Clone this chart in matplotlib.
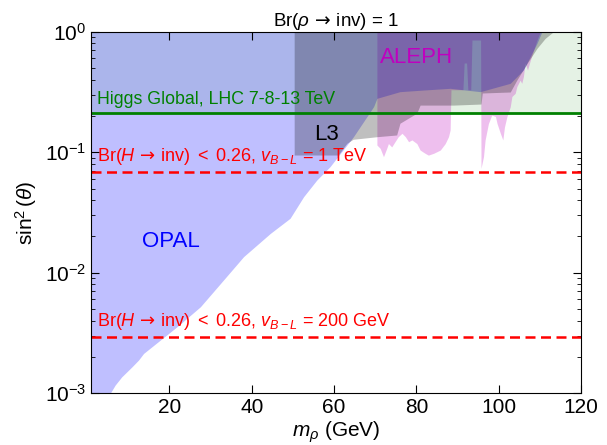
import matplotlib
matplotlib.use("Agg")
import matplotlib.pyplot as plt
import numpy as np

plt.rcParams['font.family'] = ['Liberation Sans', 'DejaVu Sans']
plt.rcParams['mathtext.fontset'] = 'custom'
plt.rcParams['mathtext.rm'] = 'Liberation Sans'
plt.rcParams['mathtext.it'] = 'Liberation Sans:italic'
plt.rcParams['mathtext.bf'] = 'Liberation Sans:bold'
plt.rcParams['mathtext.sf'] = 'DejaVu Sans'

# ---------------- data ----------------
opal_m = [1.0, 4.6, 5.6, 6.8, 8.4, 10.9, 12.5, 13.7, 21.8, 27.5, 33.1, 38.0, 44.5,
          49.3, 52.6, 55.8, 59.0, 64.7, 69.6, 70.4, 76.0, 81.7, 88.2, 95.5,
          102.8, 106.0, 109.3, 110.5]
opal_y = [0.0005, 0.0008, 0.0010, 0.00117, 0.00137, 0.00166, 0.00189, 0.00214,
          0.00356, 0.00522, 0.00869, 0.0136, 0.0212, 0.0283, 0.0428, 0.0588,
          0.0758, 0.1345, 0.239, 0.28, 0.318, 0.328, 0.339, 0.318, 0.373,
          0.481, 0.80, 1.0]

l3_m = [50.3, 61.0, 62.2, 63.1, 64.6, 70.4, 75.2, 76.0, 80.1, 80.9, 89.0,
        95.7, 96.0, 102.8, 104.4, 106.9, 109.3, 111.3, 113.3]
l3_y = [0.0948, 0.0948, 0.108, 0.1186, 0.128, 0.1345, 0.139, 0.174, 0.211,
        0.246, 0.246, 0.251, 0.31, 0.316, 0.397, 0.547, 0.728, 0.881, 1.0]

aleph_m = [70.4, 71.2, 72.0, 72.8, 73.2, 74.0, 74.8, 75.6, 76.5, 77.3, 78.1,
           78.9, 80.1, 80.9, 82.1, 82.9, 84.2, 85.8, 87.0, 87.8, 88.2, 88.4,
           91.3, 91.6, 92.2, 92.5, 93.2, 93.5, 95.6, 95.7, 96.3, 96.7, 97.5,
           98.3, 99.2, 99.6, 100.4, 101.0, 101.4, 102.0, 102.8, 103.2, 104.0,
           104.4, 105.2, 105.6, 106.0, 106.4, 107.0, 107.7, 108.5, 109.3, 110.1]
aleph_y = [0.1148, 0.1076, 0.0918, 0.108, 0.118, 0.1107, 0.1222, 0.1346,
           0.1435, 0.1346, 0.1222, 0.1265, 0.118, 0.1042, 0.098, 0.0946,
           0.098, 0.1042, 0.118, 0.1346, 0.153, 0.33, 0.33, 0.55, 0.55, 0.33,
           0.33, 0.853, 0.853, 0.0735, 0.0918, 0.1265, 0.173, 0.203, 0.198,
           0.173, 0.1435, 0.1265, 0.162, 0.198, 0.238, 0.29, 0.308, 0.35,
           0.396, 0.373, 0.425, 0.547, 0.481, 0.582, 0.706, 0.853, 1.0]

higgs_global = 0.21
brinv_1tev = 0.0685
brinv_200gev = 0.00295

x_range = [1, 120]
y_range = [1e-3, 1.0]
x_ticks = [20, 40, 60, 80, 100, 120]

# ---------------- plot ----------------
fig = plt.figure(figsize=(6.07, 4.45), dpi=100)
ax = fig.add_axes([0.1504, 0.1162, 0.8068, 0.8126])

ax.fill_between(x_range, [higgs_global] * 2, [1.0] * 2, color=(0, 0.5, 0),
                alpha=0.1, linewidth=0)
ax.fill_between(aleph_m, aleph_y, [1.0] * len(aleph_m), color=(0.75, 0, 0.75),
                alpha=0.25, linewidth=0)
ax.fill_between(opal_m, opal_y, [1.0] * len(opal_m), color='blue', alpha=0.25,
                linewidth=0)
ax.fill_between(l3_m, l3_y, [1.0] * len(l3_m), color='black', alpha=0.25,
                linewidth=0)

ax.axhline(higgs_global, color=(0, 0.5, 0), lw=2)
ax.axhline(brinv_1tev, color='red', lw=1.8, ls=(0, (4, 2.2)))
ax.axhline(brinv_200gev, color='red', lw=1.8, ls=(0, (4, 2.2)))

ax.set_yscale('log')
ax.set_xlim(x_range)
ax.set_ylim(y_range)
ax.set_xticks(x_ticks)
ax.tick_params(which='both', direction='in', top=True, right=True,
               labelsize=15)
ax.tick_params(which='major', length=6)
ax.tick_params(which='minor', length=3)

ax.text(2.4, higgs_global * 1.1, 'Higgs Global, LHC 7-8-13 TeV',
        color=(0, 0.5, 0), fontsize=12.8, va='bottom')
ax.text(2.4, brinv_1tev * 1.1,
        r'Br($H\,\mathsf{\rightarrow}\,$inv) $<$ 0.26, $v_{B-L}$ = 1 TeV',
        color='red', fontsize=13, va='bottom')
ax.text(2.4, brinv_200gev * 1.1,
        r'Br($H\,\mathsf{\rightarrow}\,$inv) $<$ 0.26, $v_{B-L}$ = 200 GeV',
        color='red', fontsize=13, va='bottom')

ax.text(71.2, 0.605, 'ALEPH', color=(0.75, 0, 0.75), fontsize=16, va='center')
ax.text(55.1, 0.1416, 'L3', color='black', fontsize=16, va='center')
ax.text(13.3, 0.0181, 'OPAL', color='blue', fontsize=16, va='center')

ax.set_title(r'Br($\rho\,\mathsf{\rightarrow}\,$inv) = 1', fontsize=13.5, pad=3)
ax.set_xlabel(r'$m_\rho$ (GeV)', fontsize=15, labelpad=2)
ax.set_ylabel(r'$\sin^2(\theta)$', fontsize=15, labelpad=4)

fig.savefig('out.png', dpi=100)
